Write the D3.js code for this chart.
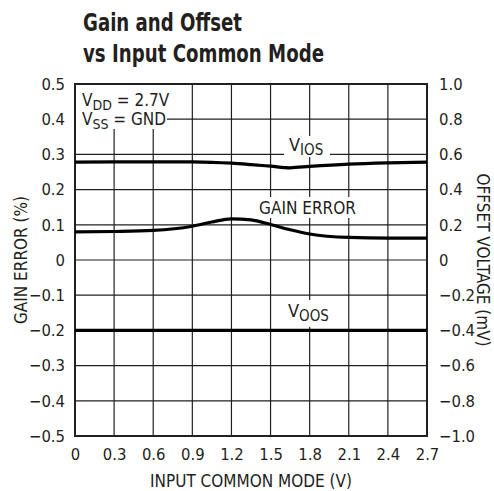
<!DOCTYPE html>
<html>
<head>
<meta charset="utf-8">
<script src="https://cdn.jsdelivr.net/npm/d3@7"></script>
<style>
  body { margin: 0; background: #fff; }
  svg text { font-family: "DejaVu Sans Condensed", "DejaVu Sans", sans-serif; font-stretch: condensed; fill: #231f20; }
</style>
</head>
<body>
<svg id="chart" width="494" height="491"></svg>
<script>
// x positions (V)
const xVals = [0, 0.3, 0.6, 0.9, 1.05, 1.2, 1.35, 1.5, 1.65, 1.8, 2.1, 2.4, 2.7];
// gain error (%), left axis
const gainError = [0.080, 0.081, 0.084, 0.096, 0.108, 0.117, 0.114, 0.101, 0.086, 0.074, 0.064, 0.062, 0.062];
// input offset voltage VIOS (mV), right axis
const vIos = [0.556, 0.557, 0.557, 0.557, 0.555, 0.550, 0.542, 0.533, 0.524, 0.532, 0.545, 0.552, 0.556];
// output offset VOOS (mV), right axis
const vOos = [-0.4, -0.4, -0.4, -0.4, -0.4, -0.4, -0.4, -0.4, -0.4, -0.4, -0.4, -0.4, -0.4];

const xTicks = [0, 0.3, 0.6, 0.9, 1.2, 1.5, 1.8, 2.1, 2.4, 2.7];
const leftTicks = [-0.5, -0.4, -0.3, -0.2, -0.1, 0, 0.1, 0.2, 0.3, 0.4, 0.5];
const rightTicks = [-1.0, -0.8, -0.6, -0.4, -0.2, 0, 0.2, 0.4, 0.6, 0.8, 1.0];

const svg = d3.select('#chart');
const plot = { left: 75, right: 427, top: 84, bottom: 436 };

const x = d3.scaleLinear().domain([0, 2.7]).range([plot.left, plot.right]);
const yL = d3.scaleLinear().domain([-0.5, 0.5]).range([plot.bottom, plot.top]);
const yR = d3.scaleLinear().domain([-1, 1]).range([plot.bottom, plot.top]);

const fmt = d => d === 0 ? '0' : d3.format('.1f')(d);

// title
svg.append('text').attr('x', 83).attr('y', 31)
  .style('font-size', '25px').style('font-weight', 'bold')
  .attr('textLength', 159).attr('lengthAdjust', 'spacingAndGlyphs')
  .text('Gain and Offset');
svg.append('text').attr('x', 83).attr('y', 62)
  .style('font-size', '25px').style('font-weight', 'bold')
  .attr('textLength', 241).attr('lengthAdjust', 'spacingAndGlyphs')
  .text('vs Input Common Mode');

// grid
const grid = svg.append('g');
grid.selectAll('line.v').data(xTicks.slice(1, -1)).enter().append('line')
  .attr('x1', d => x(d)).attr('x2', d => x(d))
  .attr('y1', plot.top).attr('y2', plot.bottom)
  .attr('stroke', '#231f20').attr('stroke-width', 1.2);
grid.selectAll('line.h').data(leftTicks.slice(1, -1)).enter().append('line')
  .attr('y1', d => yL(d)).attr('y2', d => yL(d))
  .attr('x1', plot.left).attr('x2', plot.right)
  .attr('stroke', '#231f20').attr('stroke-width', 1.2);

// axes (labels only, ticks hidden)
const axL = svg.append('g').attr('transform', `translate(${plot.left},0)`)
  .call(d3.axisLeft(yL).tickValues(leftTicks).tickFormat(fmt).tickSize(0).tickPadding(10));
const axR = svg.append('g').attr('transform', `translate(${plot.right},0)`)
  .call(d3.axisRight(yR).tickValues(rightTicks).tickFormat(fmt).tickSize(0).tickPadding(12));
const axB = svg.append('g').attr('transform', `translate(0,${plot.bottom})`)
  .call(d3.axisBottom(x).tickValues(xTicks).tickFormat(fmt).tickSize(0).tickPadding(12));
[axL, axR, axB].forEach(a => {
  a.select('.domain').remove();
  a.selectAll('text').style('font-size', '16.5px').attr('fill', '#231f20');
});

// label backgrounds
const bg = svg.append('g');
bg.append('rect').attr('x', plot.left + 1).attr('y', plot.top + 1).attr('width', 91).attr('height', 44).attr('fill', '#fff');
bg.append('rect').attr('x', 284).attr('y', 136).attr('width', 46).attr('height', 21).attr('fill', '#fff');
bg.append('rect').attr('x', 255).attr('y', 197).attr('width', 105).attr('height', 21).attr('fill', '#fff');
bg.append('rect').attr('x', 284).attr('y', 300).attr('width', 46).attr('height', 27).attr('fill', '#fff');

// frame
svg.append('rect').attr('x', plot.left).attr('y', plot.top)
  .attr('width', plot.right - plot.left).attr('height', plot.bottom - plot.top)
  .attr('fill', 'none').attr('stroke', '#231f20').attr('stroke-width', 2);

// curves
const lineL = d3.line().x((d, i) => x(xVals[i])).y(d => yL(d)).curve(d3.curveMonotoneX);
const lineR = d3.line().x((d, i) => x(xVals[i])).y(d => yR(d)).curve(d3.curveMonotoneX);
svg.append('path').attr('d', lineL(gainError)).attr('fill', 'none').attr('stroke', '#000').attr('stroke-width', 3.2);
svg.append('path').attr('d', lineR(vIos)).attr('fill', 'none').attr('stroke', '#000').attr('stroke-width', 3.2);
svg.append('path').attr('d', lineR(vOos)).attr('fill', 'none').attr('stroke', '#000').attr('stroke-width', 3.2);

// annotations
function subLabel(xp, yp, main, sub, size) {
  const t = svg.append('text').attr('x', xp).attr('y', yp).style('font-size', size + 'px');
  t.append('tspan').text(main);
  t.append('tspan').attr('dy', 4).style('font-size', (size - 3) + 'px').text(sub);
  return t;
}
const v1 = subLabel(82, 106, 'V', 'DD', 17);
v1.append('tspan').attr('dy', -4).text(' = 2.7V');
const v2 = subLabel(82, 125, 'V', 'SS', 17);
v2.append('tspan').attr('dy', -4).text(' = GND');
subLabel(289, 151, 'V', 'IOS', 18);
svg.append('text').attr('x', 259).attr('y', 214).style('font-size', '17.5px')
  .attr('textLength', 97).attr('lengthAdjust', 'spacingAndGlyphs').text('GAIN ERROR');
subLabel(288, 317, 'V', 'OOS', 18);

// axis titles
svg.append('text').attr('x', 150).attr('y', 487).style('font-size', '17.5px')
  .attr('textLength', 202).attr('lengthAdjust', 'spacingAndGlyphs').text('INPUT COMMON MODE (V)');
svg.append('text').attr('transform', `translate(27,${(plot.top + plot.bottom) / 2}) rotate(-90)`)
  .attr('text-anchor', 'middle').style('font-size', '17px').text('GAIN ERROR (%)');
svg.append('text').attr('transform', `translate(477,${(plot.top + plot.bottom) / 2}) rotate(90)`)
  .attr('text-anchor', 'middle').style('font-size', '17px').text('OFFSET VOLTAGE (mV)');
</script>
</body>
</html>
